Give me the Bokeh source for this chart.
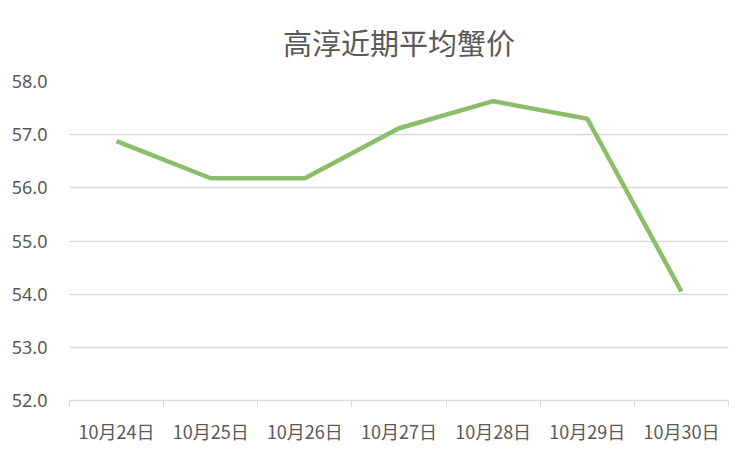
from bokeh.plotting import figure
from bokeh.models import Range1d, FixedTicker, Title, ColumnDataSource, NumeralTickFormatter
from bokeh.embed import file_html
from bokeh.resources import INLINE

title_text = "高淳近期平均蟹价"
dates = ["10月24日", "10月25日", "10月26日", "10月27日", "10月28日", "10月29日", "10月30日"]
prices = [56.88, 56.18, 56.18, 57.12, 57.63, 57.30, 54.05]
y_ticks = [52.0, 53.0, 54.0, 55.0, 56.0, 57.0, 58.0]

FONT = "Noto Sans CJK SC"
TXT = "#595959"
GRID = "#d9d9d9"

xpos = [i + 0.5 for i in range(len(dates))]
src = ColumnDataSource(dict(x=xpos, y=prices))

p = figure(width=752, height=452, output_backend="svg", toolbar_location=None,
           x_range=Range1d(0, len(dates)), y_range=Range1d(y_ticks[0], y_ticks[-1]),
           min_border_left=69, min_border_right=24, min_border_top=81, min_border_bottom=52)
p.title = None
t = Title(text=title_text, align="center", vertical_align="top", text_font=FONT,
          text_font_size="29px", text_color=TXT, text_font_style="normal",
          offset=0, standoff=33)
p.add_layout(t, "above")

p.line("x", "y", source=src, line_color="#8cbd68", line_width=4.5, line_join="round")

p.outline_line_color = None
p.background_fill_color = "white"
p.border_fill_color = "white"

# x axis
xa = p.xaxis[0]
xa.ticker = FixedTicker(ticks=xpos, minor_ticks=list(range(len(dates) + 1)))
xa.major_label_overrides = {x: d for x, d in zip(xpos, dates)}
xa.major_tick_line_color = None
xa.major_tick_out = 0
xa.minor_tick_line_color = GRID
xa.minor_tick_out = 6
xa.minor_tick_in = 0
xa.axis_line_color = GRID
xa.axis_line_width = 1.5
xa.major_label_text_font = FONT
xa.major_label_text_font_size = "18px"
xa.major_label_text_color = TXT
xa.major_label_standoff = 11

# y axis
ya = p.yaxis[0]
ya.ticker = FixedTicker(ticks=y_ticks)
ya.formatter = NumeralTickFormatter(format="0.0")
ya.axis_line_color = None
ya.major_tick_line_color = None
ya.minor_tick_line_color = None
ya.major_label_text_font = "Noto Sans"
ya.major_label_text_font_size = "18px"
ya.major_label_text_color = TXT
ya.major_label_standoff = 16

p.xgrid.grid_line_color = None
p.ygrid.grid_line_color = GRID
p.ygrid.grid_line_width = 1.5
p.ygrid.ticker = FixedTicker(ticks=y_ticks)

open("out.html", "w").write(file_html(p, INLINE))
